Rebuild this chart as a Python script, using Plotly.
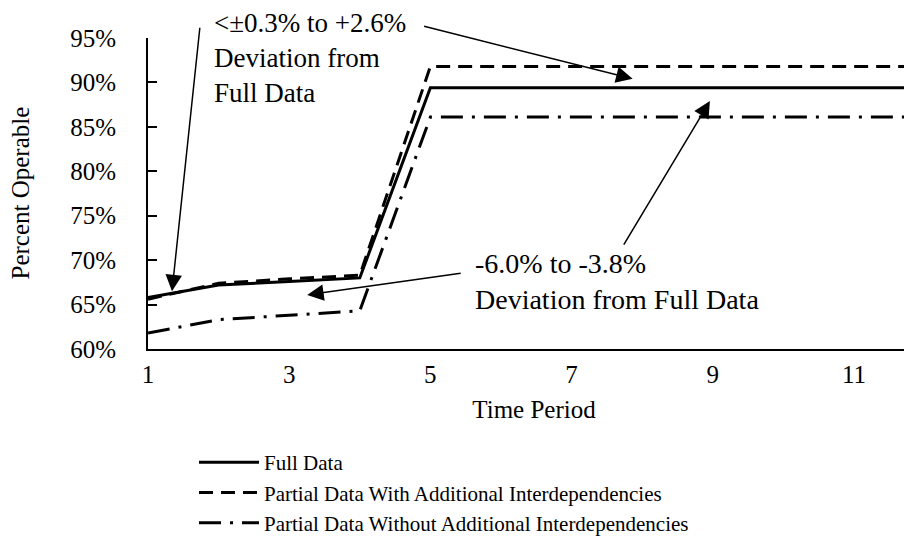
import plotly.graph_objects as go

time_period = [1, 2, 3, 4, 5, 6, 7, 8, 9, 10, 11, 12]
full_data = [65.8, 67.2, 67.6, 68.0, 89.4, 89.4, 89.4, 89.4, 89.4, 89.4, 89.4, 89.4]
partial_with = [65.6, 67.4, 67.9, 68.3, 91.8, 91.8, 91.8, 91.8, 91.8, 91.8, 91.8, 91.8]
partial_without = [61.8, 63.3, 63.8, 64.3, 86.1, 86.1, 86.1, 86.1, 86.1, 86.1, 86.1, 86.1]
series_names = ["Full Data",
                "Partial Data With Additional Interdependencies",
                "Partial Data Without Additional Interdependencies"]
y_ticks = [60, 65, 70, 75, 80, 85, 90, 95]
y_tick_labels = [f"{v}%" for v in y_ticks]
x_ticks = [1, 3, 5, 7, 9, 11]

FONT = "Liberation Serif, Times New Roman, serif"

fig = go.Figure()
fig.add_trace(go.Scatter(x=time_period, y=full_data, mode="lines", name=series_names[0],
                         line=dict(color="black", width=3, dash="solid")))
fig.add_trace(go.Scatter(x=time_period, y=partial_with, mode="lines", name=series_names[1],
                         line=dict(color="black", width=3, dash="14px,8px")))
fig.add_trace(go.Scatter(x=time_period, y=partial_without, mode="lines", name=series_names[2],
                         line=dict(color="black", width=3, dash="22px,9px,3px,9px")))

L, R, T, B = 140, 0, 30, 198
W, H = 912, 539

fig.update_layout(
    width=W, height=H,
    margin=dict(l=L, r=R, t=T, b=B, autoexpand=False),
    paper_bgcolor="white", plot_bgcolor="white",
    font=dict(family=FONT, size=25, color="black"),
    showlegend=True,
    legend=dict(xref="container", yref="container", x=186 / W, y=1 - 434 / H,
                xanchor="left", yanchor="top", bgcolor="rgba(0,0,0,0)",
                font=dict(family=FONT, size=21, color="black"),
                tracegroupgap=0, itemwidth=60),
    xaxis=dict(range=[1, 1 + (912 - 141) / 70.5], tickvals=x_ticks, showgrid=False,
               zeroline=False, showline=True, linecolor="black", linewidth=2,
               ticks="", ticklabelstandoff=2,
               tickfont=dict(family=FONT, size=25),
               title=dict(text="Time Period", font=dict(family=FONT, size=25), standoff=13)),
    yaxis=dict(range=[60, 95], tickvals=y_ticks, ticktext=y_tick_labels, showgrid=False,
               zeroline=False, showline=True, linecolor="black", linewidth=2,
               ticks="inside", ticklen=9, tickwidth=2, tickcolor="black",
               ticklabelstandoff=25,
               tickfont=dict(family=FONT, size=25)),
)

fig.add_annotation(text="Percent Operable", xref="paper", yref="paper",
                   x=(12 - L) / (W - L - R), y=0.5, textangle=-90, showarrow=False,
                   xanchor="center", yanchor="middle", font=dict(family=FONT, size=25))

fig.add_annotation(text="<±0.3% to +2.6%<br>Deviation from<br>Full Data", x=1.9, y=92.8,
                   xref="x", yref="y", showarrow=False, xanchor="left", yanchor="middle",
                   align="left", font=dict(family=FONT, size=27, color="black"))
fig.add_annotation(text="-6.0% to -3.8%<br>Deviation from Full Data", x=5.6, y=67.6,
                   xref="x", yref="y", showarrow=False, xanchor="left", yanchor="middle",
                   align="left", font=dict(family=FONT, size=28, color="black"))

arrow = dict(xref="x", yref="y", showarrow=True, arrowhead=2, arrowsize=2.2,
             arrowwidth=1.5, arrowcolor="black", text="", standoff=0)
fig.add_annotation(x=1.34, y=66.5, ax=28, ay=-265, **arrow)
fig.add_annotation(x=7.865, y=90.4, ax=-210, ay=-53, **arrow)
fig.add_annotation(x=8.96, y=87.9, ax=-87, ay=145, **arrow)
fig.add_annotation(x=3.255, y=66.08, ax=155, ay=-22, **arrow)

fig.write_html("out.html")
